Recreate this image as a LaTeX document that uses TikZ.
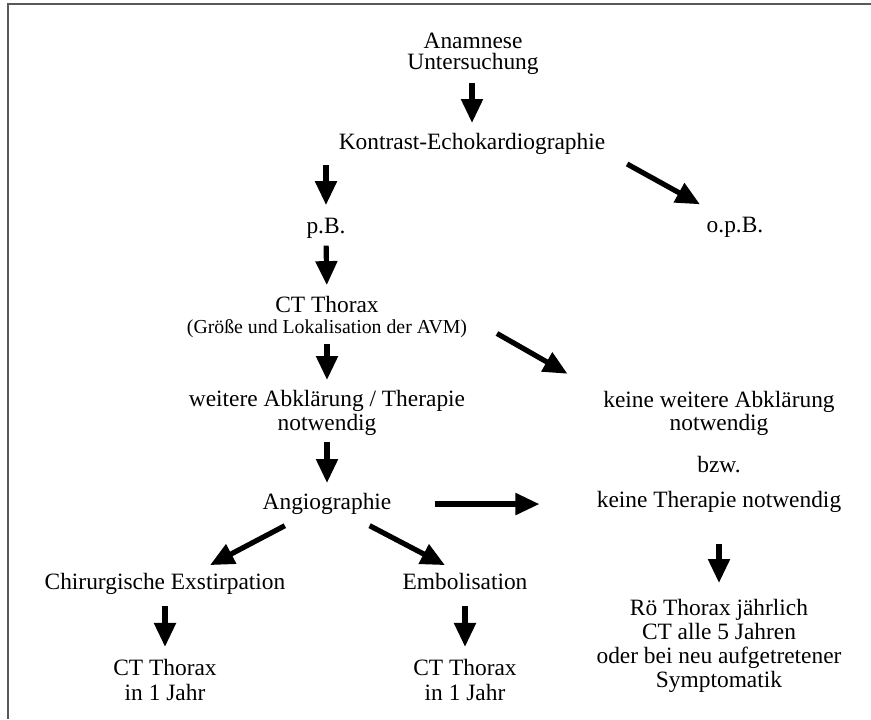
\documentclass[tikz,border=0pt]{standalone}
\usepackage{fontspec}
\setmainfont{Liberation Serif}
\usetikzlibrary{arrows.meta}
\begin{document}
\begin{tikzpicture}[x=0.5pt, y=-0.5pt,
  every node/.style={anchor=north, inner sep=0pt, align=center, font=\fontsize{11.7}{12}\selectfont}]
\useasboundingbox (0,0) rectangle (871,719);
\draw[black!65, line width=1pt] (871,4) -- (8,4) -- (8,719);

\node (a0) at (473,33) {Anamnese\\[-1.5pt]Untersuchung};
\node (a1) at (472,133) {Kontrast-Echokardiographie};
\node (a2) at (326,217.5) {p.B.};
\node (a3) at (735,216.5) {o.p.B.};

\node (a4) at (327,295.5) {CT Thorax\\[-1.5pt]{\fontsize{9.9}{12}\selectfont (Größe und Lokalisation der AVM)}};
\node (a5) at (327,390) {weitere Abklärung / Therapie\\notwendig};
\node (a6) at (719,391) {keine weitere Abklärung\\[-0.5pt]notwendig};
\node (a7) at (719,456) {bzw.};

\node (a8) at (327,493) {Angiographie};
\node (a9) at (719,491) {keine Therapie notwendig};
\node (a10) at (165,573) {Chirurgische Exstirpation};
\node (a11) at (465,573) {Embolisation};

\node (a12) at (165,658.5) {CT Thorax\\[0.5pt]in 1 Jahr};
\node (a13) at (465,658.5) {CT Thorax\\[0.5pt]in 1 Jahr};
\node (a14) at (719,599) {Rö Thorax jährlich\\CT alle 5 Jahren\\oder bei neu aufgetretener\\Symptomatik};

\begin{scope}[-{Triangle[length=12pt,width=10.5pt]}, line width=2.6pt]
\draw[shorten <=4pt, shorten >=5pt] (a1.north |- a0.south) -- (a1.north);
\draw[shorten <=5pt, shorten >=6.2pt] (a2.north |- a1.south) -- (a2.north);
\draw[shorten <=3.5pt, shorten >=5.2pt] (a2.south) -- (a4.north);
\draw[shorten <=3pt, shorten >=5pt] (a4.south) -- (a5.north);
\draw[shorten <=3pt, shorten >=5pt] (a5.south) -- (a8.north);
\draw[shorten <=5.5pt, shorten >=5.8pt] (a10.south) -- (a12.north);
\draw[shorten <=8pt, shorten >=5.8pt] (a11.south) -- (a13.north);
\draw[shorten <=15.5pt, shorten >=8pt] (a9.south) -- (a14.north);

\draw[shorten <=9.2pt, shorten >=12.6pt] ([xshift=69.5pt]a1.south) -- ([xshift=-6.5pt]a3.north);
\draw[shorten <=17pt, shorten >=17.4pt] (a4.east) -- ([xshift=-2.6pt]a6.north west);
\draw[shorten <=21.5pt, shorten >=28.5pt] (a8.east) -- (a8.east -| a9.west);
\draw[shorten <=11.4pt, shorten >=8.5pt] ([xshift=-11pt]a8.south) -- ([xshift=15pt]a10.north);
\draw[shorten <=11.4pt, shorten >=8.5pt] ([xshift=11.2pt]a8.south) -- ([xshift=-2.5pt]a11.north);
\end{scope}
\end{tikzpicture}
\end{document}
